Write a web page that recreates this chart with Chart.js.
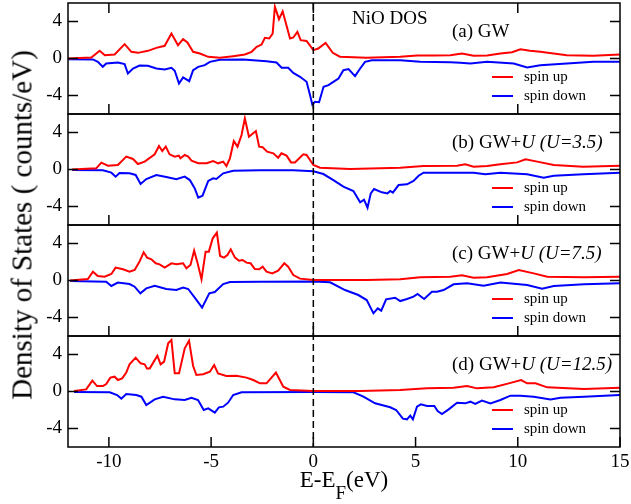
<!DOCTYPE html>
<html>
<head>
<meta charset="utf-8">
<title>NiO DOS</title>
<script src="https://cdn.jsdelivr.net/npm/chart.js@4.4.1/dist/chart.umd.min.js"></script>
<style>
  body { margin: 0; background: #fff; }
  #wrap { position: relative; width: 631px; height: 504px; font-family: 'Liberation Serif', 'Times New Roman', serif; color: #000; }
  #wrap canvas { position: absolute; left: 0; top: 0; }
  .txt { position: absolute; white-space: nowrap; line-height: 1; }
  .key { position: absolute; height: 2px; }
</style>
</head>
<body>
<div id="wrap"><canvas id="dos" width="631" height="504"></canvas></div>
<script>
"use strict";

// energies (eV, relative to E_F) and DOS values
// (a) GW
const aUpE = [-12, -10.86, -10.45, -10.2, -9.72, -9.23, -8.9, -8.58, -8.09, -7.68, -7.27, -6.94, -6.62, -6.37, -6.16, -5.88, -5.55, -5.14, -4.57, -3.92, -3.35, -3.02, -2.77, -2.53, -2.37, -2.16, -1.99, -1.88, -1.68, -1.5, -1.14, -0.98, -0.78, -0.62, -0.33, 0, 0.24, 0.6, 0.95, 1.3, 2.6, 4.25, 5.07, 5.9, 6.7, 7.27, 7.84, 8.5, 9.15, 9.72, 10.13, 10.6, 11.1, 12.4, 13.7, 15];
const aUp = [0, 0.1, 0.83, 0.36, 0.43, 1.55, 0.72, 0.61, 0.83, 1.15, 1.37, 2.7, 1.44, 2.09, 1.73, 0.72, 0.54, 0.18, 0.07, 0.25, 0.43, 0.72, 1.26, 1.51, 2.23, 2.16, 2.7, 5.59, 4.25, 5.1, 2.16, 2.27, 2.88, 1.98, 1.9, 0.9, 1.08, 1.69, 0.62, 0.2, 0.07, 0.18, 0.32, 0.32, 0.36, 0.54, 0.29, 0.32, 0.54, 0.68, 1.0, 0.83, 0.72, 0.36, 0.29, 0.43];
const aDnE = [-12, -10.78, -10.54, -10.3, -10.13, -9.56, -9.23, -9.07, -8.82, -8.5, -8.09, -7.68, -7.27, -6.94, -6.78, -6.57, -6.37, -6.07, -5.88, -5.63, -5.31, -5.06, -4.57, -3.43, -2.29, -1.8, -1.55, -1.23, -0.98, -0.65, -0.33, -0.16, -0.05, 0.08, 0.28, 0.5, 0.74, 0.98, 1.23, 1.47, 1.72, 2.04, 2.29, 2.53, 2.86, 4.25, 5.23, 6.7, 7.19, 7.68, 8.5, 9.8, 10.46, 11.1, 12.4, 13.7, 15];
const aDn = [-0.07, -0.1, -0.36, -0.9, -0.54, -0.43, -0.61, -1.62, -1.08, -0.76, -0.79, -1.08, -1.19, -1.0, -1.33, -2.7, -2.05, -2.45, -1.26, -0.9, -0.72, -0.36, -0.14, -0.1, -0.29, -0.43, -1.0, -1.0, -1.55, -1.98, -2.52, -3.96, -4.97, -4.68, -4.72, -3.06, -2.88, -2.52, -2.16, -1.26, -1.15, -1.91, -1.08, -0.36, -0.18, -0.18, -0.36, -0.4, -0.47, -0.54, -0.36, -0.54, -0.97, -0.72, -0.54, -0.36, -0.36];

// (b) GW+U, U=3.5
const bUpE = [-11.8, -10.62, -10.37, -10.05, -9.56, -9.15, -8.82, -8.58, -8.25, -7.76, -7.55, -7.39, -7.22, -7.03, -6.78, -6.58, -6.5, -6.29, -6.12, -5.96, -5.63, -5.22, -4.9, -4.65, -4.41, -4.25, -4.08, -3.89, -3.71, -3.51, -3.35, -3.15, -2.81, -2.65, -2.48, -2.26, -1.96, -1.72, -1.56, -1.31, -1.09, -0.9, -0.49, -0.33, 0, 0.33, 1.8, 4.25, 5.39, 7.03, 7.43, 7.84, 8.5, 9.15, 9.97, 10.38, 10.95, 11.76, 13.2, 15];
const bUp = [0, 0.13, 0.74, 0.41, 0.49, 1.39, 1.14, 0.59, 0.85, 1.64, 2.54, 2.0, 2.47, 1.64, 1.39, 1.5, 1.21, 1.57, 1.39, 0.95, 0.67, 0.67, 0.92, 0.67, 0.85, 0.38, 1.21, 3.08, 2.47, 3.73, 5.53, 3.55, 4.16, 2.47, 2.4, 1.93, 1.75, 1.28, 1.75, 1.5, 0.77, 0.77, 1.64, 1.57, 0.49, 0.2, 0.05, 0.2, 0.38, 0.41, 0.56, 0.31, 0.38, 0.56, 0.77, 1.1, 0.85, 0.49, 0.31, 0.41];
const bDnE = [-11.8, -10.29, -9.88, -9.67, -9.48, -8.99, -8.69, -8.45, -8.17, -7.68, -7.19, -6.7, -6.29, -6.04, -5.8, -5.63, -5.42, -5.14, -4.9, -4.74, -4.41, -3.92, -2.61, -0.98, 0, 0.49, 0.98, 1.47, 1.96, 2.29, 2.48, 2.65, 2.81, 2.97, 3.35, 3.63, 3.76, 3.89, 4.17, 4.58, 4.9, 5.15, 5.39, 6.86, 7.84, 8.41, 9.15, 10.46, 11.27, 11.76, 13.2, 15];
const bDn = [-0.05, -0.09, -0.34, -0.77, -0.38, -0.41, -0.59, -1.57, -1.03, -0.59, -0.81, -1.06, -0.77, -1.14, -2.04, -3.05, -2.83, -1.24, -0.95, -1.03, -0.41, -0.13, -0.09, -0.09, -0.2, -0.49, -1.14, -1.86, -2.32, -3.55, -3.26, -4.13, -2.58, -2.11, -2.47, -2.58, -2.32, -2.5, -1.68, -1.6, -1.24, -0.67, -0.34, -0.34, -0.34, -0.52, -0.34, -0.52, -0.88, -0.67, -0.52, -0.34];

// (c) GW+U, U=7.5
const cUpE = [-11.9, -11.03, -10.78, -10.54, -10.21, -9.88, -9.67, -9.31, -8.99, -8.74, -8.5, -8.3, -8.13, -7.92, -7.71, -7.52, -7.27, -6.94, -6.7, -6.37, -6.21, -6.01, -5.83, -5.68, -5.47, -5.27, -5.11, -4.92, -4.72, -4.56, -4.37, -4.2, -4.04, -3.84, -3.64, -3.46, -3.27, -3.07, -2.86, -2.65, -2.48, -2.29, -2.01, -1.72, -1.42, -1.23, -0.98, -0.65, 0, 2.61, 4.25, 5.23, 6.7, 7.27, 7.84, 8.5, 9.48, 10.05, 10.78, 11.44, 13.24, 15];
const cUp = [0, 0.16, 0.95, 0.49, 0.41, 0.7, 1.39, 1.21, 0.95, 1.14, 2.04, 3.05, 2.47, 2.29, 1.86, 1.75, 1.39, 1.86, 1.75, 1.86, 1.32, 1.68, 3.23, 2.04, 0.13, 3.12, 3.12, 4.56, 5.17, 2.65, 2.47, 2.76, 3.37, 2.5, 2.14, 2.22, 1.93, 1.86, 1.24, 1.21, 1.5, 0.95, 0.77, 1.06, 1.86, 1.5, 0.59, 0.2, 0.05, 0.05, 0.13, 0.34, 0.41, 0.56, 0.31, 0.34, 0.7, 1.14, 0.77, 0.41, 0.34, 0.41];
const cDnE = [-11.9, -10.13, -9.88, -9.56, -8.99, -8.74, -8.46, -8.17, -7.76, -7.19, -6.7, -6.37, -6.12, -5.8, -5.44, -5.09, -4.82, -4.41, -4.08, -2.61, 0, 0.82, 1.55, 2.2, 2.61, 2.94, 3.15, 3.32, 3.56, 4.0, 4.25, 4.58, 4.9, 5.1, 5.42, 5.8, 6.05, 6.37, 6.86, 7.52, 8.33, 9.15, 10.46, 11.19, 11.76, 13.24, 15];
const cDn = [-0.05, -0.13, -0.59, -0.23, -0.38, -0.67, -1.39, -0.85, -0.56, -0.92, -1.03, -0.77, -0.92, -1.86, -2.94, -1.39, -1.24, -0.38, -0.16, -0.13, -0.1, -0.2, -1.03, -1.57, -2.11, -3.55, -3.01, -3.26, -2.04, -1.86, -2.22, -2.0, -1.75, -1.46, -2.0, -1.21, -1.21, -1.03, -0.41, -0.31, -0.56, -0.23, -0.49, -0.88, -0.59, -0.41, -0.31];

// (d) GW+U, U=12.5
const dUpE = [-11.7, -11.11, -10.81, -10.58, -10.29, -10.13, -9.93, -9.72, -9.56, -9.35, -9.15, -8.99, -8.69, -8.45, -8.25, -8.14, -8.0, -7.63, -7.47, -7.3, -7.1, -6.94, -6.78, -6.57, -6.29, -6.08, -5.88, -5.72, -5.39, -5.06, -4.85, -4.66, -4.25, -3.76, -3.27, -2.94, -2.61, -2.29, -1.83, -1.47, -1.14, 0, 2.29, 4.25, 5.56, 6.86, 7.52, 8.0, 8.82, 9.56, 10.16, 10.46, 10.87, 11.44, 13.24, 15];
const dUp = [0.05, 0.23, 1.17, 0.59, 0.59, 0.81, 1.5, 1.6, 1.24, 1.42, 2.04, 2.94, 3.66, 3.05, 2.94, 2.5, 2.5, 3.87, 2.94, 3.23, 5.21, 5.57, 1.96, 1.96, 4.67, 5.5, 2.76, 1.78, 1.86, 2.14, 2.86, 1.96, 1.68, 1.71, 1.5, 1.24, 0.88, 0.88, 2.04, 0.52, 0.16, 0.05, 0.05, 0.16, 0.34, 0.41, 0.59, 0.34, 0.45, 0.88, 1.24, 0.88, 0.88, 0.45, 0.27, 0.41];
const dDnE = [-11.7, -9.96, -9.6, -9.39, -9.15, -8.66, -8.41, -8.17, -7.76, -7.35, -6.78, -6.29, -5.96, -5.64, -5.36, -5.14, -4.82, -4.62, -4.41, -4.17, -3.92, -3.51, 0, 1.96, 2.45, 3.02, 3.76, 4.05, 4.38, 4.58, 4.74, 4.87, 5.07, 5.26, 5.56, 5.92, 6.08, 6.29, 6.62, 7.03, 7.43, 7.68, 7.92, 8.25, 8.66, 9.15, 9.64, 10.13, 10.78, 11.6, 12.09, 13.24, 15];
const dDn = [-0.05, -0.09, -0.38, -0.77, -0.27, -0.38, -0.56, -1.46, -0.85, -0.56, -0.85, -0.92, -0.67, -0.92, -2.0, -1.82, -2.29, -1.71, -1.64, -1.21, -0.38, -0.09, -0.05, -0.09, -0.56, -1.28, -1.71, -2.0, -2.94, -3.01, -2.61, -3.01, -1.64, -1.39, -1.57, -1.57, -2.11, -2.43, -1.93, -1.21, -1.28, -1.1, -1.35, -0.99, -1.28, -0.92, -0.45, -0.45, -0.56, -0.85, -0.67, -0.56, -0.38];

const panelIds = ["ya", "yb", "yc", "yd"];
const panelLabels = ["(a) GW", "(b) GW+<i>U (U=3.5)</i>", "(c) GW+<i>U (U=7.5)</i>", "(d) GW+<i>U (U=12.5)</i>"];
const seriesNames = ["spin up", "spin down"];
const seriesColors = ["#ff0000", "#0000ff"];
const fermiLevel = 0;

const panelData = [
    [[aUpE, aUp], [aDnE, aDn]],
    [[bUpE, bUp], [bDnE, bDn]],
    [[cUpE, cUp], [cDnE, cDn]],
    [[dUpE, dUp], [dDnE, dDn]]
];

Chart.defaults.font.family = "'Liberation Serif', 'Times New Roman', serif";
Chart.defaults.color = "#000";

// build the line datasets, one pair per panel
const datasets = [];
panelData.forEach((pair, p) => {
    pair.forEach(([energies, dos], s) => {
        datasets.push({
            label: seriesNames[s],
            data: energies.map((e, i) => ({ x: e, y: dos[i] })),
            yAxisID: panelIds[p],
            borderColor: seriesColors[s],
            borderWidth: 2,
            pointRadius: 0,
            tension: 0,
            fill: false
        });
    });
});

function noPadding(s) {
    s.paddingTop = 0;
    s.paddingBottom = 0;
    s.paddingLeft = 0;
    s.paddingRight = 0;
}

function panelAxis() {
    return {
        type: "linear",
        position: "left",
        stack: "dos",
        stackWeight: 1,
        min: -6,
        max: 6,
        grid: { display: false, drawTicks: false },
        border: { display: false },
        ticks: {
            stepSize: 2,
            autoSkip: false,
            padding: 6,
            font: { size: 19 },
            callback: v => (v % 4 === 0 ? String(v) : null)
        },
        afterFit: s => { s.width = 68; noPadding(s); }
    };
}

const scales = {
    x: {
        type: "linear",
        position: "bottom",
        min: -12,
        max: 15,
        grid: { display: false, drawTicks: false },
        border: { display: false },
        ticks: {
            stepSize: 1,
            autoSkip: false,
            maxRotation: 0,
            padding: 4,
            font: { size: 19 },
            callback: v => (v % 5 === 0 ? String(v) : null)
        },
        afterFit: s => { s.height = 57; noPadding(s); }
    }
};
// stacked left axes are laid out bottom-up, so add the lowest panel first
panelIds.slice().reverse().forEach(id => { scales[id] = panelAxis(); });

// panel boxes, inward ticks and the dashed Fermi level line
const panelFrames = {
    id: "panelFrames",
    afterDatasetsDraw(chart) {
        const ctx = chart.ctx;
        const xs = chart.scales.x;
        const { left, right, top, bottom } = chart.chartArea;
        const seg = (x1, y1, x2, y2) => {
            ctx.beginPath();
            ctx.moveTo(x1, y1);
            ctx.lineTo(x2, y2);
            ctx.stroke();
        };
        ctx.save();
        ctx.strokeStyle = "#000";
        ctx.lineWidth = 1.5;

        const xf = xs.getPixelForValue(fermiLevel);
        ctx.setLineDash([7, 4]);
        seg(xf, top, xf, bottom);
        ctx.setLineDash([]);

        panelIds.forEach((id, i) => {
            const ys = chart.scales[id];
            ctx.strokeRect(left, ys.top, right - left, ys.bottom - ys.top);
            ys.ticks.forEach(t => {
                const py = ys.getPixelForValue(t.value);
                const len = t.value % 4 === 0 ? 10 : 5;
                seg(left, py, left + len, py);
                seg(right, py, right - len, py);
            });
            const last = i === panelIds.length - 1;
            xs.ticks.forEach(t => {
                const v = t.value;
                if (!last && v % 2 !== 0) return;
                const major = last ? v % 5 === 0 : v % 10 === 0;
                const len = major ? 10 : 5;
                const px = xs.getPixelForValue(v);
                seg(px, ys.bottom, px, ys.bottom - len);
                if (i === 0) seg(px, ys.top, px, ys.top + len);
            });
        });
        ctx.restore();
    }
};

const chart = new Chart(document.getElementById("dos"), {
    type: "line",
    data: { datasets: datasets },
    options: {
        responsive: false,
        animation: false,
        layout: { autoPadding: false, padding: { top: 3, right: 11, bottom: 0, left: 0 } },
        scales: scales,
        plugins: {
            legend: { display: false },
            tooltip: { enabled: false }
        }
    },
    plugins: [panelFrames]
});

// text overlays: titles, panel labels, per-panel keys
const wrap = document.getElementById("wrap");

function addText(html, left, baseline, size) {
    const d = document.createElement("div");
    d.className = "txt";
    d.innerHTML = html;
    d.style.fontSize = size + "px";
    d.style.left = left + "px";
    d.style.top = (baseline - 0.8375 * size) + "px";
    wrap.appendChild(d);
    return d;
}

const area = chart.chartArea;

const yTitle = addText("Density of States ( counts/eV)", 22, 0, 29);
yTitle.style.top = ((area.top + area.bottom) / 2) + "px";
yTitle.style.transform = "translate(-50%, -50%) rotate(-90deg)";

const xTitle = addText('E-E<sub style="font-size:19px;vertical-align:-12px">F</sub>(eV)', (area.left + area.right) / 2, 487, 23);
xTitle.style.transform = "translateX(-50%)";

addText("NiO DOS", 352, 24, 19);

panelIds.forEach((id, i) => {
    const top = chart.scales[id].top;
    addText(panelLabels[i], 452, top + 34, 19);
    seriesNames.forEach((name, s) => {
        const y = top + 74 + s * 19;
        const k = document.createElement("div");
        k.className = "key";
        k.style.left = "492px";
        k.style.width = "21px";
        k.style.top = (y - 1) + "px";
        k.style.background = seriesColors[s];
        wrap.appendChild(k);
        addText(name, 524, y + 5, 15);
    });
});
</script>
</body>
</html>
